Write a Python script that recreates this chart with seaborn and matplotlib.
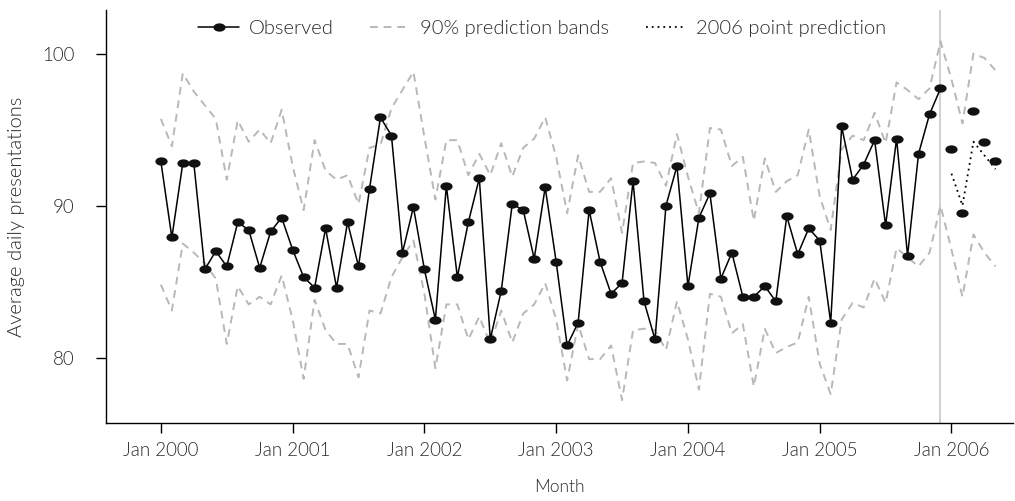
import numpy as np
import pandas as pd
import matplotlib
matplotlib.use("Agg")
import matplotlib.pyplot as plt
from matplotlib.path import Path
from matplotlib.lines import Line2D
import seaborn as sns

# ---------------- data ----------------
tick_labels = ["Jan 2000", "Jan 2001", "Jan 2002", "Jan 2003",
               "Jan 2004", "Jan 2005", "Jan 2006"]

# monthly observed values Jan 2000 .. Dec 2005
observed = [92.9, 87.9, 92.8, 92.8, 85.8, 87.0, 86.0, 88.9, 88.4, 85.9, 88.3, 89.2,
            87.1, 85.3, 84.6, 88.5, 84.6, 88.9, 86.0, 91.1, 95.8, 94.6, 86.9, 89.9,
            85.8, 82.5, 91.3, 85.3, 88.9, 91.8, 81.2, 84.4, 90.1, 89.7, 86.5, 91.2,
            86.3, 80.8, 82.3, 89.7, 86.3, 84.2, 84.9, 91.6, 83.7, 81.2, 90.0, 92.6,
            84.7, 89.2, 90.8, 85.2, 86.9, 84.0, 84.0, 84.7, 83.7, 89.3, 86.8, 88.5,
            87.7, 82.3, 95.2, 91.7, 92.7, 94.3, 88.7, 94.4, 86.7, 93.4, 96.0, 97.7]

# observed Jan 2006 .. May 2006 (not joined)
observed_2006 = [93.7, 89.5, 96.2, 94.2, 92.9]

# point prediction Jan 2006 .. May 2006
prediction_2006 = [92.1, 90.0, 94.2, 93.3, 92.4]

# 90% prediction bands Jan 2000 .. May 2006
upper_band = [95.7, 93.9, 98.7, 97.5, 96.6, 95.7, 91.7, 95.6, 94.2, 95.0, 94.1, 96.3,
              92.6, 89.7, 94.3, 92.3, 91.7, 92.0, 90.1, 93.8, 94.0, 96.4, 97.6, 98.8,
              94.5, 90.4, 94.3, 94.3, 92.0, 93.4, 92.0, 94.1, 91.9, 93.8, 94.4, 95.8,
              93.2, 89.5, 93.3, 90.9, 90.9, 91.8, 88.2, 92.8, 92.9, 92.8, 91.3, 94.7,
              91.9, 89.5, 95.1, 95.0, 92.6, 93.2, 89.0, 93.1, 90.9, 91.6, 92.0, 95.0,
              90.6, 88.4, 93.7, 94.6, 94.3, 96.1, 94.1, 98.1, 97.6, 97.0, 97.7, 100.8,
              98.3, 95.4, 100.0, 99.7, 98.9]
lower_band = [84.8, 83.1, 87.5, 86.9, 86.2, 85.2, 80.9, 84.7, 83.5, 84.0, 83.5, 85.4,
              82.5, 78.6, 83.8, 81.8, 80.9, 80.9, 78.7, 83.1, 82.9, 85.3, 86.6, 87.7,
              84.2, 79.3, 83.5, 83.5, 81.2, 82.7, 80.9, 83.1, 81.0, 82.9, 83.5, 84.9,
              82.5, 78.5, 82.2, 79.9, 79.9, 80.8, 77.2, 81.8, 81.9, 81.8, 80.5, 83.7,
              81.2, 77.9, 84.2, 84.0, 81.6, 82.2, 78.1, 81.9, 80.3, 80.7, 81.0, 84.0,
              79.6, 77.6, 82.5, 83.6, 83.3, 85.2, 83.6, 87.2, 86.6, 86.0, 86.9, 90.0,
              87.1, 84.0, 88.1, 86.9, 86.0]

# ---------------- tables ----------------
n_obs = len(observed)
obs_df = pd.DataFrame({"month": np.arange(n_obs), "value": observed})
obs06_df = pd.DataFrame({"month": np.arange(n_obs, n_obs + len(observed_2006)),
                         "value": observed_2006})
pred_df = pd.DataFrame({"month": np.arange(n_obs, n_obs + len(prediction_2006)),
                        "value": prediction_2006})
band_df = pd.DataFrame({"month": np.arange(len(upper_band)),
                        "upper": upper_band, "lower": lower_band})

# ---------------- style ----------------
sns.set_style("ticks")
plt.rcParams["font.family"] = ["Lato", "DejaVu Sans"]
plt.rcParams["font.weight"] = 300
plt.rcParams["axes.labelweight"] = 300
text_col = "#2a2a2a"

fig = plt.figure(figsize=(10.15, 5.01), dpi=100)
ax = fig.add_axes([0.1044, 0.1557, 0.8936, 0.8243])

# ellipse marker (wide dots)
t = np.linspace(0, 2 * np.pi, 40)
ellipse = Path(np.column_stack([np.cos(t), 0.68 * np.sin(t)]), closed=True)

band_col = "#b8b8b8"
sns.lineplot(data=band_df, x="month", y="upper", ax=ax, color=band_col,
             lw=1.4, dashes=False, linestyle=(0, (4, 3)))
sns.lineplot(data=band_df, x="month", y="lower", ax=ax, color=band_col,
             lw=1.4, dashes=False, linestyle=(0, (4, 3)))

sns.lineplot(data=pred_df, x="month", y="value", ax=ax, color="black",
             lw=1.3, linestyle=(0, (1, 2.2)))

sns.lineplot(data=obs_df, x="month", y="value", ax=ax, color="black", lw=1.1,
             marker=ellipse, markersize=8.8, markeredgewidth=0, markerfacecolor="#111111")
sns.lineplot(data=obs06_df, x="month", y="value", ax=ax, color="black",
             linestyle="none", marker=ellipse, markersize=8.8,
             markeredgewidth=0, markerfacecolor="#111111")

ax.axvline(n_obs - 1, color="#c8c8c8", lw=1.2, zorder=0)

# axes
ax.set_xlim(-5.0, 77.6)
ax.set_ylim(75.7, 102.86)
ax.set_xticks(np.arange(len(tick_labels)) * 12)
ax.set_xticklabels(tick_labels)
ax.set_yticks([80, 90, 100])
sns.despine(ax=ax)
for s in ["left", "bottom"]:
    ax.spines[s].set_linewidth(1.0)
    ax.spines[s].set_color("black")
ax.tick_params(axis="both", direction="out", length=7, width=1.0, colors="black",
               labelcolor=text_col, labelsize=13.5)
ax.tick_params(axis="x", pad=7)
ax.tick_params(axis="y", pad=16)
ax.set_xlabel("Month", fontsize=12.5, color=text_col, labelpad=14)
ax.set_ylabel("Average daily presentations", fontsize=14.5, color=text_col, labelpad=12)

handles = [
    Line2D([], [], color="black", lw=1.1, marker=ellipse, markersize=8.8,
           markeredgewidth=0, markerfacecolor="#111111"),
    Line2D([], [], color=band_col, lw=1.4, linestyle=(0, (4, 3))),
    Line2D([], [], color="black", lw=1.3, linestyle=(0, (1, 2.2))),
]
labels = ["Observed", "90% prediction bands", "2006 point prediction"]
ax.legend(handles, labels, loc="center", bbox_to_anchor=(0.481, 0.955), ncol=3,
          frameon=False, fontsize=14.5, handlelength=2.0, handletextpad=0.5,
          columnspacing=1.8, labelcolor=text_col)

fig.savefig("out.png", dpi=100)
